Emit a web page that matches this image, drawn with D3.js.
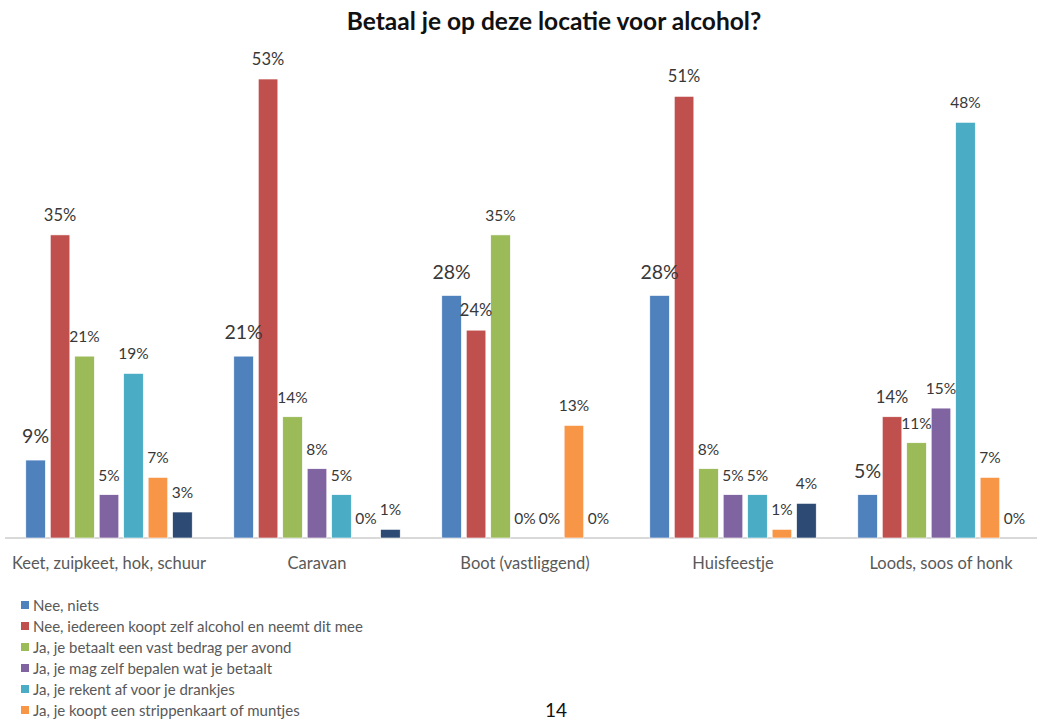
<!DOCTYPE html>
<html>
<head>
<meta charset="utf-8">
<script src="https://cdn.jsdelivr.net/npm/d3@7"></script>
<style>
  html, body { margin: 0; padding: 0; background: #fff; }
  svg { display: block; font-family: Lato, "Open Sans", sans-serif; }
</style>
</head>
<body>
<svg id="chart" width="1037" height="722"></svg>
<script>
// ---- data ----
const categories = ["Keet, zuipkeet, hok, schuur", "Caravan", "Boot (vastliggend)", "Huisfeestje", "Loods, soos of honk"];
const seriesNames = [
  "Nee, niets",
  "Nee, iedereen koopt zelf alcohol en neemt dit mee",
  "Ja, je betaalt een vast bedrag per avond",
  "Ja, je mag zelf bepalen wat je betaalt",
  "Ja, je rekent af voor je drankjes",
  "Ja, je koopt een strippenkaart of muntjes",
  "Overig"
];
const neeNiets      = [9, 21, 28, 28, 5];
const neeZelfMee    = [35, 53, 24, 51, 14];
const vastBedrag    = [21, 14, 35, 8, 11];
const zelfBepalen   = [5, 8, 0, 5, 15];
const afrekenen     = [19, 5, 0, 5, 48];
const strippenkaart = [7, 0, 13, 1, 7];
const overig        = [3, 1, 0, 4, 0];
const seriesValues = [neeNiets, neeZelfMee, vastBedrag, zelfBepalen, afrekenen, strippenkaart, overig];
const colors = ["#4F81BD", "#C0504D", "#9BBB59", "#8064A2", "#4BACC6", "#F79646", "#2C4A74"];
const title = "Betaal je op deze locatie voor alcohol?";
const pageNumber = "14";

// ---- drawing ----
const svg = d3.select("#chart");

svg.append("text")
  .attr("x", 554).attr("y", 30)
  .attr("text-anchor", "middle")
  .attr("font-size", 24.5).attr("font-weight", "bold")
  .attr("fill", "#111")
  .text(title);

const x0 = d3.scaleBand().domain(categories).range([5, 1045]).paddingInner(0.2).paddingOuter(0.1);
const x1 = d3.scaleBand().domain(d3.range(seriesNames.length)).range([0, x0.bandwidth()]).paddingInner(0.2).paddingOuter(0);
const y = d3.scaleLinear().domain([0, 60]).range([538, 18.4]);

// axis
const xAxis = d3.axisBottom(x0).tickSize(0).tickPadding(19);
const gAxis = svg.append("g").attr("transform", `translate(0,${y(0)})`).call(xAxis);
gAxis.select(".domain").attr("stroke", "#D9D9D9").attr("stroke-width", 2).attr("d", `M5,0H1037`);
gAxis.selectAll(".tick text")
  .attr("font-size", 16.5).attr("fill", "#595959")
  .attr("font-family", "Lato, sans-serif");

const rows = [];
categories.forEach((c, ci) => {
  seriesValues.forEach((vals, si) => rows.push({ c, si, v: vals[ci] }));
});

svg.append("g").selectAll("rect").data(rows).join("rect")
  .attr("x", d => x0(d.c) + x1(d.si))
  .attr("width", x1.bandwidth())
  .attr("y", d => y(d.v))
  .attr("height", d => y(0) - y(d.v))
  .attr("fill", d => colors[d.si])
  .attr("stroke", "#fff").attr("stroke-width", 0.6);

svg.append("g").selectAll("text").data(rows).join("text")
  .attr("x", d => x0(d.c) + x1(d.si) + x1.bandwidth() / 2)
  .attr("y", d => y(d.v) - (d.si === 0 ? 17 : 14))
  .attr("text-anchor", "middle")
  .attr("font-size", d => d.si === 0 ? 19.5 : (d.si === 1 ? 16.5 : 15.5))
  .attr("fill", "#383838")
  .text(d => d.v + "%");

// legend (the last entry falls below the visible page)
const legend = svg.append("g");
const legendItems = seriesNames.slice(0, 6);
legendItems.forEach((name, i) => {
  const ly = 605 + i * 21;
  legend.append("rect").attr("x", 21).attr("y", ly - 4).attr("width", 8).attr("height", 8).attr("fill", colors[i]);
  legend.append("text").attr("x", 33).attr("y", ly + 5.5)
    .attr("font-size", 15).attr("fill", "#595959").text(name);
});

svg.append("text").attr("x", 556).attr("y", 717)
  .attr("text-anchor", "middle").attr("font-size", 19).attr("fill", "#111")
  .text(pageNumber);
</script>
</body>
</html>
